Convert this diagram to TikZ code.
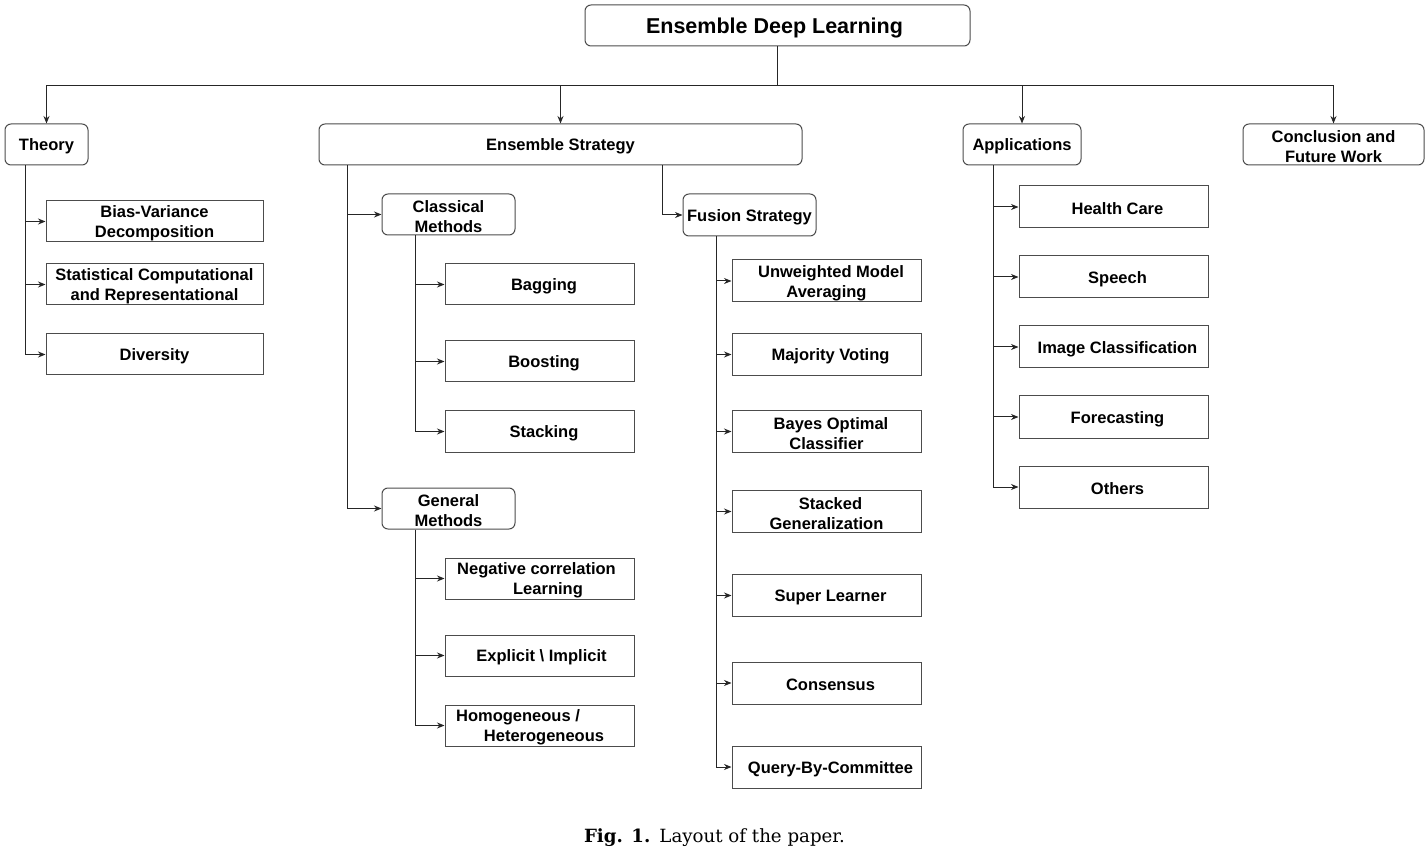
\documentclass[tikz,border=0pt]{standalone}
\usepackage{fontspec}
\setmainfont{Liberation Sans}
\newfontfamily\capfont{DejaVu Serif}
\usetikzlibrary{arrows.meta}
\newcommand\mybox[8]{%
  \node[#1, minimum width=#5pt, minimum height=#6pt] (#2) at (#3,#4) {};
  \node[txt] (#2t) at ([xshift=#7pt,yshift=-2pt]#2.center) {#8};}
\begin{document}
\begin{tikzpicture}[x=1pt,y=-1pt,
  box/.style={draw=black!70, line width=1pt, inner sep=0pt, fill=white},
  rbox/.style={box, rounded corners=6pt},
  txt/.style={inner sep=0pt, align=center, text=black, font=\bfseries\fontsize{16.5}{20}\selectfont},
  conn/.style={draw=black!85, line width=1pt},
  arr/.style={conn, -{Stealth[length=7.5pt,width=6pt]}}
]
\useasboundingbox (0,0) rectangle (1428,850);

% top level
\node[rbox, minimum width=385pt, minimum height=41pt] (root) at (777.5,25.5) {};
\node[inner sep=0pt, font=\bfseries\fontsize{21.5}{25}\selectfont] (roott) at ([xshift=-3pt,yshift=-2pt]root.center) {Ensemble Deep Learning};

\mybox{rbox}{theory}{46.5}{144.5}{83}{41}{0}{Theory}
\mybox{rbox}{es}{560.5}{144.5}{483}{41}{0}{Ensemble Strategy}
\mybox{rbox}{apps}{1022}{144.5}{118}{41}{0}{Applications}
\mybox{rbox}{concl}{1333.5}{144.5}{181}{41}{0}{Conclusion and\\Future Work}

% theory children
\mybox{box}{bv}{154.5}{221.5}{217}{41}{0}{Bias-Variance\\Decomposition}
\mybox{box}{scr}{154.5}{284.5}{217}{41}{0}{Statistical Computational\\and Representational}
\mybox{box}{div}{154.5}{354.5}{217}{41}{0}{Diversity}

% ensemble strategy children
\mybox{rbox}{cm}{448.5}{214.5}{133}{41}{0}{Classical\\Methods}
\mybox{rbox}{gm}{448.5}{508.5}{133}{41}{0}{General\\Methods}
\mybox{rbox}{fs}{749.5}{215}{133}{42}{0}{Fusion Strategy}

\mybox{box}{bag}{539.5}{284.5}{189}{41}{4.5}{Bagging}
\mybox{box}{boo}{539.5}{361.5}{189}{41}{4.5}{Boosting}
\mybox{box}{sta}{539.5}{431.5}{189}{41}{4.5}{Stacking}

\mybox{box}{ncl}{539.5}{578.5}{189}{41}{0}{Negative correlation\hspace*{6pt}\null\\\hspace*{17pt}Learning}
\mybox{box}{ei}{539.5}{655.5}{189}{41}{2}{Explicit \textbackslash{} Implicit}
\mybox{box}{hh}{539.5}{725.5}{189}{41}{0}{Homogeneous /\hspace*{43pt}\null\\\hspace*{9pt}Heterogeneous}

\mybox{box}{uma}{826.5}{281}{189}{42}{0}{\hspace*{9pt}Unweighted Model\\Averaging}
\mybox{box}{mv}{826.5}{354.5}{189}{42}{4}{Majority Voting}
\mybox{box}{boc}{826.5}{431.5}{189}{42}{0}{\hspace*{9pt}Bayes Optimal\\Classifier}
\mybox{box}{sg}{826.5}{511.5}{189}{42}{0}{\hspace*{8pt}Stacked\\Generalization}
\mybox{box}{sl}{826.5}{595.5}{189}{42}{4}{Super Learner}
\mybox{box}{con}{826.5}{683}{189}{42}{4}{Consensus}
\mybox{box}{qbc}{826.5}{767}{189}{42}{4}{Query-By-Committee}

% applications children
\mybox{box}{hc}{1113.5}{207}{189}{42}{4}{Health Care}
\mybox{box}{sp}{1113.5}{277}{189}{42}{4}{Speech}
\mybox{box}{ic}{1113.5}{347}{189}{42}{4}{Image Classification}
\mybox{box}{fc}{1113.5}{417}{189}{42}{4}{Forecasting}
\mybox{box}{oth}{1113.5}{487}{189}{42}{4}{Others}

% connectors: top level
\draw[conn] (root.south) -- ++(0,39) coordinate (bus);
\draw[arr] (bus) -| (theory.north);
\draw[arr] (bus) -| (es.north);
\draw[arr] (bus) -| (apps.north);
\draw[arr] (bus) -| (concl.north);

% theory
\foreach \c in {bv,scr,div}
  \draw[arr] ([xshift=-21.5pt]theory.south) |- (\c.west);
% ensemble strategy
\draw[arr] ([xshift=-213.5pt]es.south) |- (cm.west);
\draw[arr] ([xshift=-213.5pt]es.south) |- (gm.west);
\draw[arr] ([xshift=101.5pt]es.south) |- (fs.west);
\foreach \c in {bag,boo,sta}
  \draw[arr] ([xshift=-33.5pt]cm.south) |- (\c.west);
\foreach \c in {ncl,ei,hh}
  \draw[arr] ([xshift=-33.5pt]gm.south) |- (\c.west);
\foreach \c in {uma,mv,boc,sg,sl,con,qbc}
  \draw[arr] ([xshift=-33.5pt]fs.south) |- (\c.west);
% applications
\foreach \c in {hc,sp,ic,fc,oth}
  \draw[arr] ([xshift=-29pt]apps.south) |- (\c.west);

% caption
\node[inner sep=0pt, font=\capfont\fontsize{18.2}{22}\selectfont] (cap) at (714.5,838) {\textbf{Fig. 1.}\hspace{0.5em}Layout of the paper.};
\end{tikzpicture}
\end{document}
